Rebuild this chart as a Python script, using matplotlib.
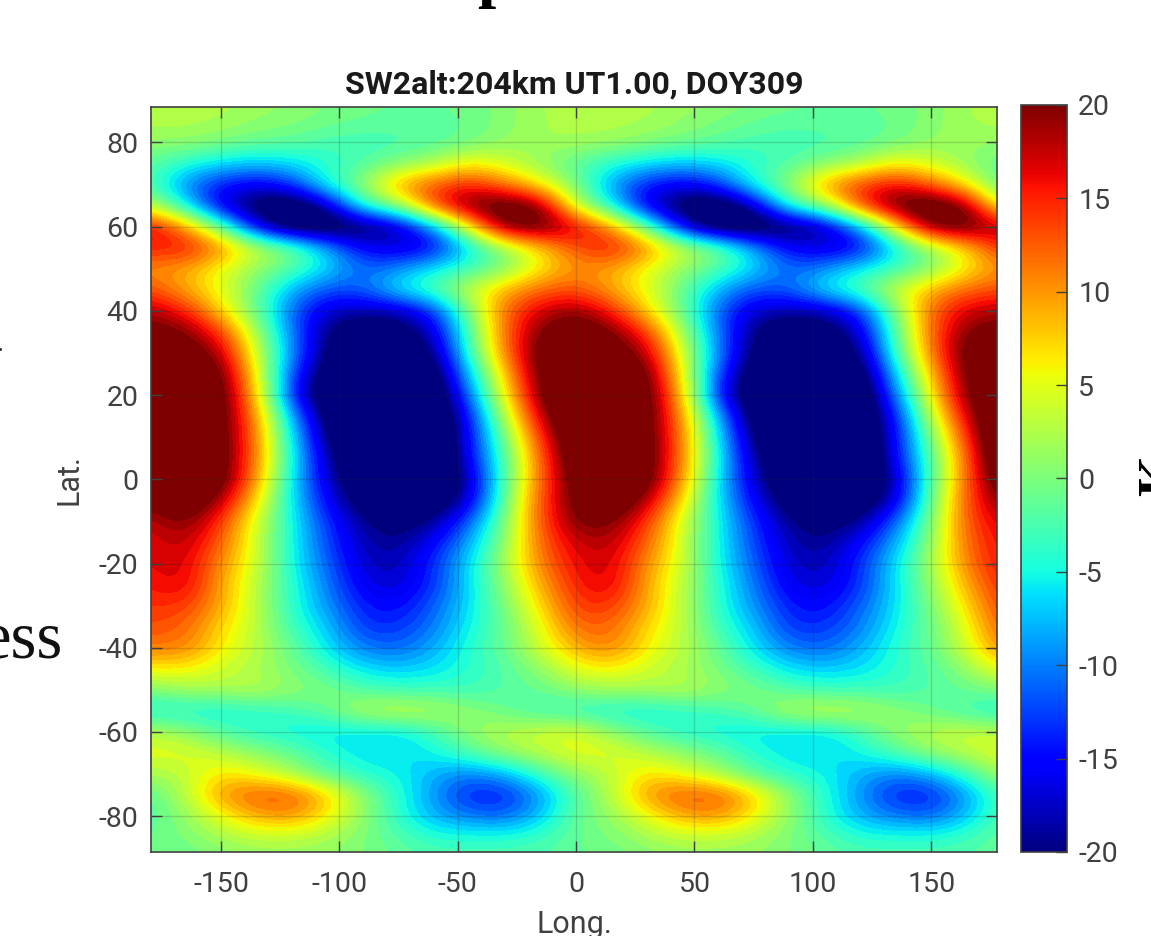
import numpy as np
import matplotlib
matplotlib.use('Agg')
import matplotlib.pyplot as plt
from matplotlib.colors import BoundaryNorm, Normalize
from matplotlib.cm import ScalarMappable

W, H = 1151, 936

lons = list(range(-180, 181, 15))
lats = list(range(90, -91, -5))
xticks = [-150, -100, -50, 0, 50, 100, 150]
yticks = [-80, -60, -40, -20, 0, 20, 40, 60, 80]
cticks = [-20, -15, -10, -5, 0, 5, 10, 15, 20]

# one row per latitude (north to south), lon -180..180 step 15
temps = np.array([
    [3, 3, 2.5, 1.5, 1, 0, -0.5, -1, -1, -0.5, 0.5, 2, 3, 3, 2.5, 1.5, 1, 0, -0.5, -1, -1, -0.5, 0.5, 2, 3],
    [2.5, 2.5, 2, 1, 0.5, -0.5, -1, -1.5, -1.5, -1, 0.5, 2, 2.5, 2.5, 2, 1, 0, -1, -1.5, -1.5, -1.5, -1, 0.5, 2, 2.5],
    [1, 1, 0, -1, -1.5, -2.5, -3, -2.5, -2, -0.5, 1, 2, 2, 1.5, 0.5, -0.5, -1.5, -2.5, -3, -2.5, -2, -0.5, 1, 1.5, 1],
    [-1.5, -4, -6, -7, -6, -4, -2, 0, 2, 6, 4, 1, -2, -4, -6, -7, -6, -4, -2, 0, 2, 6, 4, 1, -1.5],
    [-2, -10, -14, -16, -13, -4, 1, 10, 13, 15, 11, 6, 0, -9, -14, -16, -13, -4, 1, 10, 14, 16, 12, 6, -2],
    [3, -5, -17, -22, -24, -18, -3, 1, 14, 21, 23, 20, 3, -5, -17, -22, -24, -18, -3, 1, 14, 22, 24, 20, 3],
    [17, 10, -1, -16, -24, -24, -22, -18, -9, 6, 21, 22, 17, 10, -1, -16, -24, -24, -22, -18, -9, 6, 21, 22, 18],
    [15, 16, 11, 4, 0, -8, -15, -17, -16, -6, 1, 7, 13, 16, 11, 4, 0, -8, -15, -17, -16, -6, 1, 7, 15],
    [10, 9, 5, 1, -2, -6, -11, -9, -5, -3, 0, 6, 10, 9, 5, 1, -2, -6, -11, -9, -5, -3, 0, 6, 10],
    [13, 9, 5, -1, -8, -12, -11, -5, -2, 4, 9, 12, 13, 9, 5, -1, -8, -12, -11, -5, -2, 4, 9, 12, 13],
    [18, 15, 7, -1, -11, -17, -18, -18, -13, 0, 12, 17, 19, 15, 7, -1, -11, -17, -18, -18, -13, 0, 12, 17, 18],
    [21, 20, 14, 2, -10, -20, -23, -22, -17, -2, 12, 20, 23, 20, 14, 2, -10, -20, -23, -22, -17, -2, 12, 20, 21],
    [22, 22, 18, 4, -9, -21, -24, -24, -20, -3, 11, 22, 25, 22, 18, 4, -9, -21, -24, -24, -20, -3, 11, 22, 22],
    [24, 25, 21, 6, -12, -23, -26, -26, -23, -7, 8, 21, 26, 25, 21, 6, -12, -23, -26, -26, -23, -7, 8, 21, 24],
    [25, 26, 22, 8, -14, -24, -28, -28, -25, -10, 6, 20, 28, 26, 22, 8, -14, -24, -28, -28, -25, -10, 6, 20, 25],
    [26, 26, 22, 10, -8, -22, -28, -28, -26, -14, 3, 17, 27, 26, 22, 10, -8, -22, -28, -28, -26, -14, 3, 17, 26],
    [27, 26, 22, 11, -6, -20, -28, -28, -26, -15, 0, 14, 25, 26, 22, 11, -6, -20, -28, -28, -26, -15, 0, 14, 27],
    [26, 27, 22, 11, -5, -18, -26, -28, -27, -15, -2, 12, 24, 27, 22, 11, -5, -18, -26, -28, -27, -15, -2, 12, 26],
    [24, 27, 22, 10, -6, -17, -24, -26, -26, -18, -2, 12, 22, 27, 22, 10, -6, -17, -24, -26, -26, -18, -2, 12, 24],
    [20, 24, 18, 7, -6, -15, -22, -24, -23, -17, -1, 13, 21, 24, 18, 7, -6, -15, -22, -24, -23, -17, -1, 13, 20],
    [17, 20, 14, 4, -5, -13, -19, -21, -19, -11, 0, 13, 20, 20, 14, 4, -5, -13, -19, -21, -19, -11, 0, 13, 17],
    [16, 18, 12, 4, -5, -12, -18, -19, -15, -8, 1, 12, 17, 18, 12, 4, -5, -12, -18, -19, -15, -8, 1, 12, 16],
    [16, 17, 10, 4, -5, -11, -17, -18, -13, -6, 2, 11, 16, 17, 10, 4, -5, -11, -17, -18, -13, -6, 2, 11, 16],
    [15, 17, 9, 3, -4, -10, -16, -17, -13, -6, 1, 9, 15, 17, 9, 3, -4, -10, -16, -17, -13, -6, 1, 9, 15],
    [14, 14, 9, 3, -4, -9, -14, -15, -11, -6, 0, 7, 14, 14, 9, 3, -4, -9, -14, -15, -11, -6, 0, 7, 14],
    [13, 12, 7, 3, -3, -7, -13, -13, -10, -5, -1, 5, 12, 12, 7, 3, -3, -7, -13, -13, -10, -5, -1, 5, 13],
    [11, 11, 6, 3, -1, -6, -10, -11, -8, -4, -1, 4, 9, 11, 6, 3, -1, -6, -10, -11, -8, -4, -1, 4, 11],
    [6, 6, 4, 2, 0, -3, -6, -7, -6, -4, -2, 1, 5, 6, 4, 2, 0, -3, -6, -7, -6, -4, -2, 1, 6],
    [0, 2, 2, 3, 1, 0, -2, -3, -3, -3, -2, -1, 1, 2, 2, 3, 1, 0, -2, -3, -3, -3, -2, -1, 0],
    [-5, -5, -5, -4, -3, -1, 3, 4, 3, 1, -1, -3, -4, -5, -5, -4, -3, -1, 3, 4, 3, 1, -1, -3, -5],
    [3, 1, -2, -4, -5, -6, -6, -6, -3, 1, 3, 4, 5, 1, -2, -4, -5, -6, -6, -6, -3, 1, 3, 4, 3],
    [5, 5, 3, 1, -1, -4, -6, -6.5, -5, -2, 1, 3, 5, 5, 3, 1, -1, -4, -6, -6.5, -5, -2, 1, 3, 5],
    [2, 3, 7, 5, 2, -2, -4, -5, -8, -10, -8, -3, 1, 3, 7, 5, 2, -2, -4, -5, -8, -10, -8, -3, 2],
    [-2, 3, 10, 13, 13, 8, 1, -4, -9, -14, -14, -9, -2, 3, 10, 13, 13, 8, 1, -4, -9, -14, -14, -9, -2],
    [-2, 1, 5, 9, 10, 6, 1, -4, -8, -10, -11, -7, -1, 1, 5, 9, 10, 6, 1, -4, -8, -10, -11, -7, -2],
    [-1, 0, 2, 3, 3, 2, 0, -2, -4, -4, -4, -3, -1, 0, 2, 3, 3, 2, 0, -2, -4, -4, -4, -3, -1],
    [-1, -1, 0, 1, 1, 1, 0, -1, -2, -2, -2, -2, -1, -1, 0, 1, 1, 1, 0, -1, -2, -2, -2, -2, -1],
])

plt.rcParams['font.family'] = ['Roboto', 'DejaVu Sans']
plt.rcParams['axes.unicode_minus'] = False
gray = '#404040'


def box(left, top, right, bottom):
    return [left / W, 1 - bottom / H, (right - left) / W, (bottom - top) / H]


fig = plt.figure(figsize=(W / 100, H / 100), dpi=100)
ax = fig.add_axes(box(151, 107, 997, 852))

levels = np.arange(-20, 21, 1)
cmap = plt.get_cmap('jet', len(levels) - 1)
norm = BoundaryNorm(levels, cmap.N, clip=True)

dlon, dlat = 7.5, 2.5
ax.imshow(temps, cmap=cmap, norm=norm, interpolation='bicubic', aspect='auto',
          extent=(lons[0] - dlon, lons[-1] + dlon, lats[-1] - dlat, lats[0] + dlat))
ax.set_xlim(-179.6, 177.8)
ax.set_ylim(-88.5, 88.4)
ax.set_xticks(xticks)
ax.set_yticks(yticks)
ax.grid(True, color='#262626', alpha=0.18, linewidth=1)
ax.tick_params(direction='in', top=True, right=True, length=8, width=1, color=gray,
               labelcolor=gray, labelsize=20.5)
ax.tick_params(axis='x', pad=14)
ax.tick_params(axis='y', pad=9)
for s in ax.spines.values():
    s.set_color(gray)
    s.set_linewidth(1.2)
ax.set_xlabel('Long.', fontsize=22, color=gray, labelpad=8)
ax.set_ylabel('Lat.', fontsize=22, color=gray, labelpad=11)
ax.set_title('SW2alt:204km UT1.00, DOY309', fontsize=23, fontweight='bold', color='#1a1a1a', pad=10)

cax = fig.add_axes(box(1021, 105, 1067, 852))
cb = fig.colorbar(ScalarMappable(norm=Normalize(-20, 20), cmap='jet'), cax=cax, ticks=cticks)
cb.ax.set_yticklabels([str(t) for t in cticks])
cb.ax.tick_params(direction='in', length=8, width=1, color=gray, labelcolor=gray, labelsize=20.5, pad=8)
cb.outline.set_edgecolor(gray)
cb.outline.set_linewidth(1.2)

# bits of the surrounding page that are cut off by the crop
serif = ['Liberation Serif', 'DejaVu Serif']
fig.text(63 / W, 1 - 657 / H, 'ess', family=serif, fontsize=48, color='#111111', ha='right', va='baseline')
fig.text(3 / W, 1 - 351 / H, '.', family=serif, fontsize=20, color='#333333', ha='right', va='baseline')
fig.text(495 / W, 1 + 5 / H, 'p', family=serif, fontsize=47, fontweight='bold', color='black',
         ha='center', va='baseline')
fig.text(1137 / W, 1 - 476 / H, 'K', family=serif, fontsize=38, fontweight='bold', color='black',
         rotation=90, ha='left', va='center')

fig.savefig('out.png', dpi=100)
